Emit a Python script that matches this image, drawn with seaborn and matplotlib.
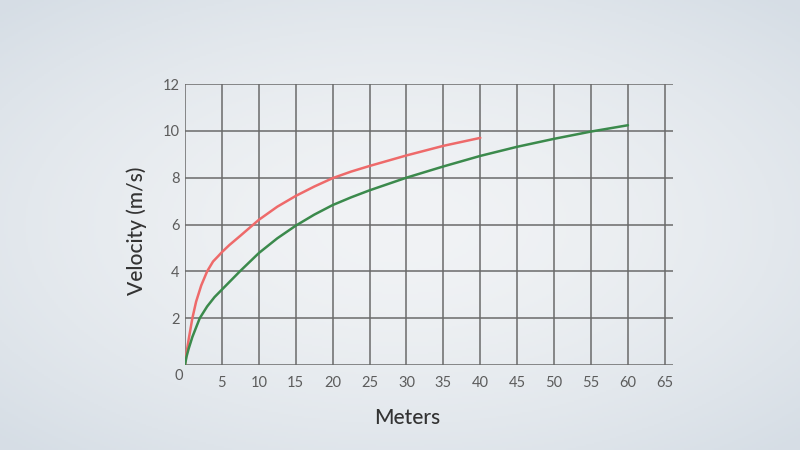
import matplotlib
matplotlib.use('Agg')

import numpy as np
import pandas as pd
import matplotlib.pyplot as plt
import seaborn as sns

# values
red_x = [0, 0.25, 0.5, 1, 1.5, 2.2, 3, 3.8, 4.5, 5, 6, 7.5, 10, 12.5, 15, 17.5, 20, 22.5, 25, 30, 35, 40]
red_y = [0, 0.6, 1.1, 2.0, 2.7, 3.4, 4.0, 4.42, 4.65, 4.82, 5.12, 5.52, 6.2, 6.76, 7.22, 7.62, 7.98, 8.26, 8.5, 8.95, 9.36, 9.7]

green_x = [0, 0.2, 0.5, 1, 1.5, 2, 3, 4, 5, 7.5, 10, 12.5, 15, 17.5, 20, 22.5, 25, 30, 35, 40, 45, 50, 55, 60]
green_y = [0, 0.35, 0.7, 1.2, 1.6, 2.0, 2.5, 2.9, 3.22, 4.02, 4.78, 5.41, 5.95, 6.42, 6.83, 7.16, 7.46, 8.0, 8.48, 8.93, 9.32, 9.66, 9.97, 10.24]

x_ticks = [5, 10, 15, 20, 25, 30, 35, 40, 45, 50, 55, 60, 65]
y_ticks = [2, 4, 6, 8, 10, 12]

df = pd.concat([
    pd.DataFrame({'Meters': red_x, 'Velocity': red_y, 'run': 'red'}),
    pd.DataFrame({'Meters': green_x, 'Velocity': green_y, 'run': 'green'}),
])

sns.set_style('white')
plt.rcParams['font.family'] = ['Lato', 'DejaVu Sans']

fig = plt.figure(figsize=(8, 4.5), dpi=100)

# soft radial background
bg = fig.add_axes([0, 0, 1, 1], zorder=-10)
gx, gy = np.meshgrid(np.linspace(-1, 1, 400), np.linspace(-1, 1, 225))
r = np.clip(np.sqrt((gx * 0.85) ** 2 + (gy * 0.9) ** 2), 0, 1.2)
c0 = np.array([0.945, 0.953, 0.961])
c1 = np.array([0.84, 0.87, 0.90])
img = c0 + (c1 - c0) * (r[..., None] / 1.2) ** 1.6
bg.imshow(img, aspect='auto', extent=[0, 1, 0, 1])
bg.axis('off')

ax = fig.add_axes([0.23125, 0.1889, 0.61, 0.6244])
ax.patch.set_alpha(0)

sns.lineplot(data=df, x='Meters', y='Velocity', hue='run',
             palette={'red': '#ee6a6a', 'green': '#3b8a4c'},
             linewidth=1.8, legend=False, sort=False, ax=ax, zorder=3)

ax.set_xlim(0, 66.1)
ax.set_ylim(0, 12)
ax.set_xticks(x_ticks)
ax.set_yticks(y_ticks)
ax.set_xticks([0], minor=True)
ax.set_yticks([0], minor=True)
ax.grid(True, which='both', color='#6a6a6a', linewidth=1.1)
ax.set_axisbelow(True)
for s in ax.spines.values():
    s.set_visible(False)

ax.tick_params(axis='both', which='both', length=0, labelsize=10.5, labelcolor='#5c5c5c')
ax.tick_params(axis='x', pad=8)
ax.tick_params(axis='y', pad=4)
ax.text(-0.25, -0.47, '0', ha='right', va='center', fontsize=10.5, color='#5c5c5c')

ax.set_xlabel('Meters', fontsize=15, color='#333333', fontweight='medium')
ax.set_ylabel('Velocity (m/s)', fontsize=15, color='#333333', fontweight='medium')
ax.xaxis.label.set_va('center')
ax.yaxis.label.set_va('center')
ax.xaxis.set_label_coords(0.455, -0.189)
ax.yaxis.set_label_coords(-0.098, 0.477)

fig.savefig('out.png', dpi=100)
